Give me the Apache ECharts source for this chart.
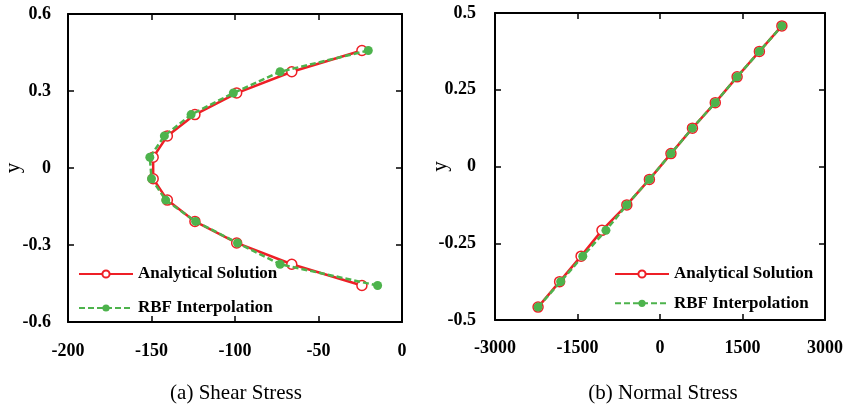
<!DOCTYPE html>
<html>
<head>
<meta charset="utf-8">
<script src="https://cdn.jsdelivr.net/npm/echarts@6/dist/echarts.min.js"></script>
<style>html,body{margin:0;padding:0;background:#fff;}#c{width:846px;height:408px;}</style>
</head>
<body>
<div id="c"></div>
<script>
// ---- data ----
var seriesNames = ['Analytical Solution', 'RBF Interpolation'];
var captions = ['(a) Shear Stress', '(b) Normal Stress'];
var yPositions = [-0.458, -0.375, -0.292, -0.208, -0.125, -0.042, 0.042, 0.125, 0.208, 0.292, 0.375, 0.458];
var shearAnalytical = [-24, -66, -99, -124, -140.5, -149, -149, -140.5, -124, -99, -66, -24];
var shearRBF = [-14.6, -73, -98.5, -123.6, -141.5, -150, -151, -142.3, -126.3, -101, -73, -20.2];
var normalAnalytical = [-2217, -1825, -1435, -1055, -603, -193, 199, 590, 1005, 1402, 1807, 2216];
var normalRBF = [-2217, -1807, -1404, -983, -603, -193, 199, 589, 1005, 1402, 1807, 2216];
var shearXTicks = {min: -200, max: 0, interval: 50};
var shearYTicks = {min: -0.6, max: 0.6, interval: 0.3};
var normalXTicks = {min: -3000, max: 3000, interval: 1500};
var normalYTicks = {min: -0.5, max: 0.5, interval: 0.25};

function pairs(xs, ys) { return xs.map(function (x, i) { return [x, ys[i]]; }); }

var RED = '#ee1f26';
var GREEN = '#4db34c';
var FONT = '"Liberation Serif","Times New Roman",serif';
var lblStyle = {fontFamily: FONT, fontWeight: 'bold', fontSize: 18, color: '#000'};

function plainNum(v) { return String(Math.round(v * 10000) / 10000); }

function axis(gridIndex, ticks, pos, showLabel, margin, extra) {
  var a = {
    type: 'value', gridIndex: gridIndex, position: pos,
    min: ticks.min, max: ticks.max, interval: ticks.interval,
    axisLine: {show: true, onZero: false, lineStyle: {color: '#000', width: 2}},
    axisTick: {show: true, inside: true, length: 6, lineStyle: {color: '#000', width: 1.5}},
    splitLine: {show: false},
    axisLabel: Object.assign({show: showLabel, margin: margin, formatter: plainNum}, lblStyle)
  };
  return Object.assign(a, extra || {});
}

var yName = {name: 'y', nameLocation: 'middle', nameRotate: 90, nameMoveOverlap: false,
  nameTextStyle: {fontFamily: FONT, fontSize: 21, color: '#000'}};

function lineSeries(name, data, xi, yi) {
  var isA = name === seriesNames[0];
  return {
    name: name, type: 'line', xAxisIndex: xi, yAxisIndex: yi, data: data,
    symbol: 'circle', symbolSize: isA ? 10 : 9, showSymbol: true,
    itemStyle: isA ? {color: '#fff', borderColor: RED, borderWidth: 1.5} : {color: GREEN, borderColor: GREEN, borderWidth: 0},
    lineStyle: isA ? {color: RED, width: 2.5, type: 'solid'} : {color: GREEN, width: 2.5, type: [6, 3]},
    z: isA ? 2 : 3, animation: false
  };
}

var legendCommon = {
  orient: 'vertical', itemWidth: 54, itemHeight: 9, padding: 0,
  textStyle: {fontFamily: FONT, fontWeight: 'bold', fontSize: 17, color: '#000'},
  data: seriesNames, selectedMode: false
};

var option = {
  animation: false,
  backgroundColor: '#fff',
  grid: [
    {left: 68, top: 14, width: 334, height: 308},
    {left: 495, top: 13, width: 334, height: 307}
  ],
  xAxis: [
    axis(0, shearXTicks, 'bottom', true, 20),
    axis(0, shearXTicks, 'top', false, 8),
    axis(1, normalXTicks, 'bottom', true, 19),
    axis(1, normalXTicks, 'top', false, 8)
  ],
  yAxis: [
    axis(0, shearYTicks, 'left', true, 17, Object.assign({nameGap: 44}, yName)),
    axis(0, shearYTicks, 'right', false, 8),
    axis(1, normalYTicks, 'left', true, 19, Object.assign({nameGap: 44}, yName)),
    axis(1, normalYTicks, 'right', false, 8)
  ],
  legend: [
    Object.assign({left: 78, top: 265.5, itemGap: 17}, legendCommon),
    Object.assign({left: 614, top: 265.5, itemGap: 12.3}, legendCommon)
  ],
  series: [
    lineSeries(seriesNames[0], pairs(shearAnalytical, yPositions), 0, 0),
    lineSeries(seriesNames[1], pairs(shearRBF, yPositions), 0, 0),
    lineSeries(seriesNames[0], pairs(normalAnalytical, yPositions), 2, 2),
    lineSeries(seriesNames[1], pairs(normalRBF, yPositions), 2, 2)
  ],
  graphic: [
    {type: 'text', x: 236, y: 393, style: {text: captions[0], font: '21px ' + FONT, fill: '#000', textAlign: 'center', textVerticalAlign: 'middle'}},
    {type: 'text', x: 663, y: 393, style: {text: captions[1], font: '21px ' + FONT, fill: '#000', textAlign: 'center', textVerticalAlign: 'middle'}}
  ]
};

var chart = echarts.init(document.getElementById('c'), null, {renderer: 'canvas'});
chart.setOption(option);
</script>
</body>
</html>
